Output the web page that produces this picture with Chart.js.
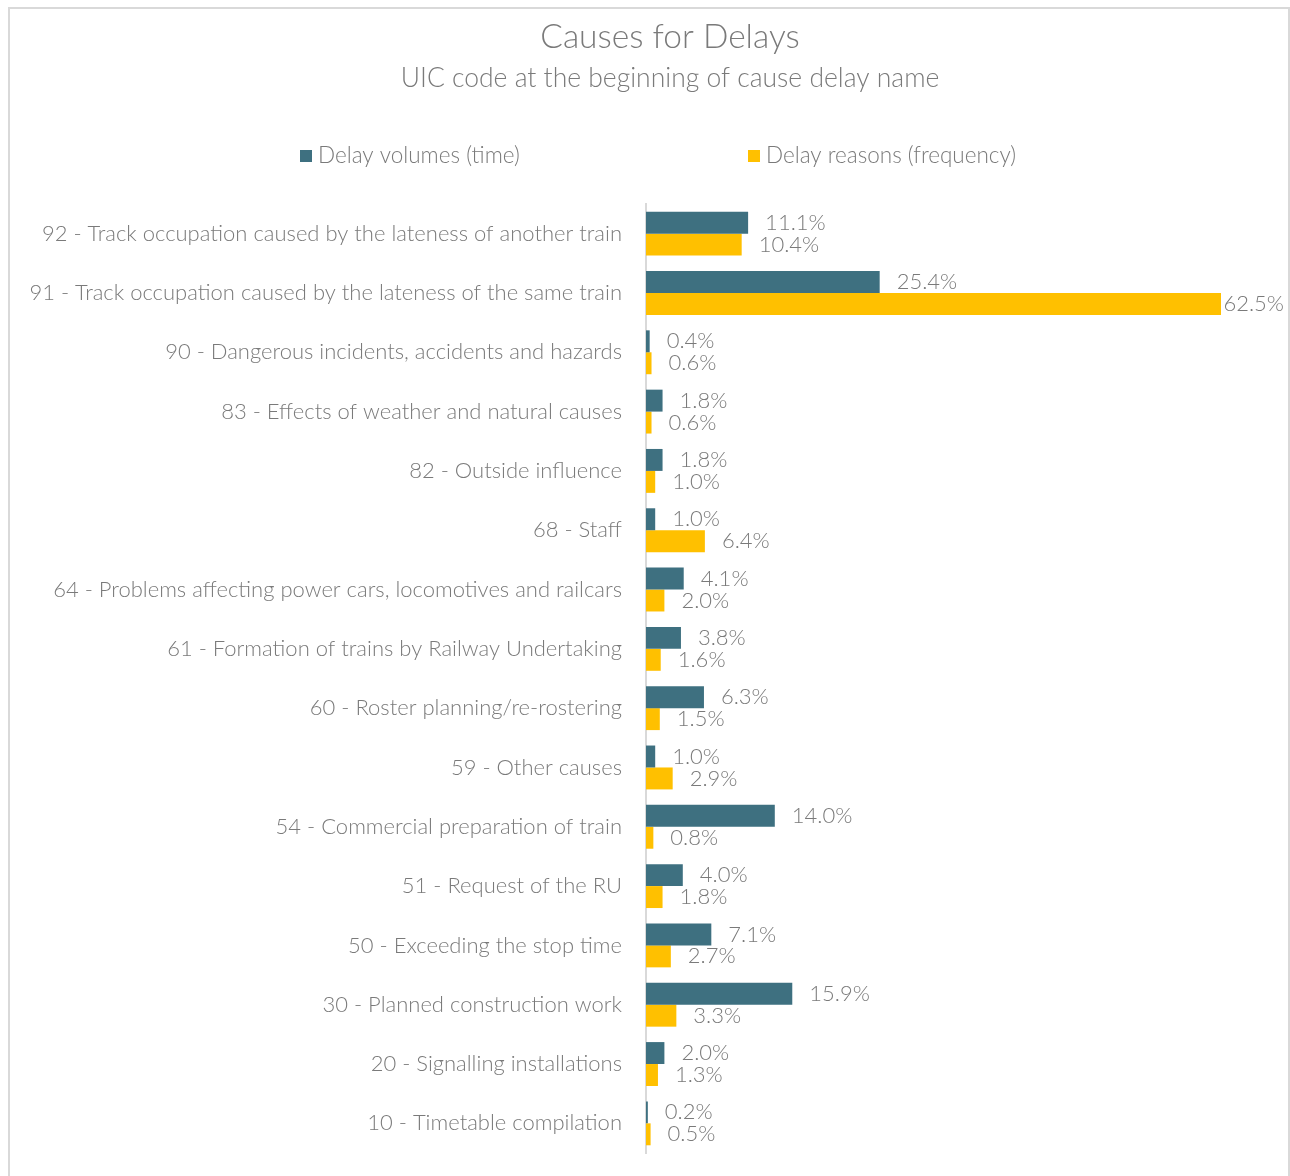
<!DOCTYPE html>
<html>
<head>
<meta charset="utf-8">
<script src="https://cdn.jsdelivr.net/npm/chart.js@4.4.0/dist/chart.umd.min.js"></script>
<style>
    body { margin: 0; background: #ffffff; }
    #wrap { position: relative; width: 1290px; height: 1176px; }
    #frame {
        position: absolute; left: 8px; top: 7px; width: 1278px; height: 1180px;
        border: 2px solid #d9d9d9; pointer-events: none;
    }
    canvas { position: absolute; left: 0; top: 0; }
</style>
</head>
<body>
<div id="wrap">
    <canvas id="chart" width="1290" height="1176"></canvas>
    <div id="frame"></div>
</div>
<script>
/***************
 * Chart data  *
 ***************/
const causeLabels = [
    '92 - Track occupation caused by the lateness of another train',
    '91 - Track occupation caused by the lateness of the same train',
    '90 - Dangerous incidents, accidents and hazards',
    '83 - Effects of weather and natural causes',
    '82 - Outside influence',
    '68 - Staff',
    '64 - Problems affecting power cars, locomotives and railcars',
    '61 - Formation of trains by Railway Undertaking',
    '60 - Roster planning/re-rostering',
    '59 - Other causes',
    '54 - Commercial preparation of train',
    '51 - Request of the RU',
    '50 - Exceeding the stop time',
    '30 - Planned construction work',
    '20 - Signalling installations',
    '10 - Timetable compilation'
];
const delayVolumes = [11.1, 25.4, 0.4, 1.8, 1.8, 1.0, 4.1, 3.8, 6.3, 1.0, 14.0, 4.0, 7.1, 15.9, 2.0, 0.2];
const delayReasons = [10.4, 62.5, 0.6, 0.6, 1.0, 6.4, 2.0, 1.6, 1.5, 2.9, 0.8, 1.8, 2.7, 3.3, 1.3, 0.5];
const seriesNames = ['Delay volumes (time)', 'Delay reasons (frequency)'];

const tealColor = '#3e7080';
const goldColor = '#ffc000';
const textColor = '#7a7a7a';
const fontFamily = 'Lato, "Open Sans", sans-serif';

/**
 * Draws the value label at the end of each bar.
 */
const barValueLabels = {
    id: 'barValueLabels',
    afterDatasetsDraw(chart) {
        const ctx = chart.ctx;
        ctx.save();
        ctx.font = '300 22px ' + fontFamily;
        ctx.fillStyle = textColor;
        ctx.textBaseline = 'middle';
        ctx.textAlign = 'left';
        chart.data.datasets.forEach((dataset, datasetIndex) => {
            const meta = chart.getDatasetMeta(datasetIndex);
            meta.data.forEach((bar, index) => {
                const text = dataset.data[index].toFixed(1) + '%';
                const width = ctx.measureText(text).width;
                const x = Math.min(bar.x + 17, chart.width - width - 6);
                ctx.fillText(text, x, bar.y);
            });
        });
        ctx.restore();
    }
};

/**
 * Draws the legend with two widely spaced items.
 */
const splitLegend = {
    id: 'splitLegend',
    afterDraw(chart, args, options) {
        const ctx = chart.ctx;
        ctx.save();
        ctx.font = '300 22.5px ' + fontFamily;
        ctx.textBaseline = 'middle';
        ctx.textAlign = 'left';
        chart.data.datasets.forEach((dataset, i) => {
            const x = options.positions[i];
            ctx.fillStyle = dataset.backgroundColor;
            ctx.fillRect(x, options.y - 6, 12, 12);
            ctx.fillStyle = textColor;
            ctx.fillText(dataset.label, x + 18, options.y);
        });
        ctx.restore();
    }
};

const context = document.getElementById('chart').getContext('2d');
new Chart(context, {
    type: 'bar',
    data: {
        labels: causeLabels,
        datasets: [
            { label: seriesNames[0], data: delayVolumes, backgroundColor: tealColor },
            { label: seriesNames[1], data: delayReasons, backgroundColor: goldColor }
        ]
    },
    options: {
        indexAxis: 'y',
        responsive: false,
        animation: false,
        // negative right padding shifts the centred title to the right, like the original
        layout: { padding: { left: 0, right: -50, top: 0, bottom: 23 } },
        datasets: {
            bar: { barPercentage: 1, categoryPercentage: 0.74 }
        },
        scales: {
            x: {
                display: false,
                min: 0,
                max: 70
            },
            y: {
                afterFit(scale) {
                    scale.width = 646;
                    scale.paddingTop = 0;
                    scale.paddingBottom = 0;
                },
                grid: { display: false, drawTicks: false },
                border: { display: true, color: '#d9d9d9', width: 2 },
                ticks: {
                    padding: 24,
                    color: textColor,
                    font: { family: fontFamily, size: 22, weight: '300' }
                }
            }
        },
        plugins: {
            legend: { display: false },
            tooltip: { enabled: false },
            title: {
                display: true,
                text: 'Causes for Delays',
                color: textColor,
                font: { family: fontFamily, size: 33.5, weight: '300' },
                padding: { top: 17, bottom: 5 }
            },
            subtitle: {
                display: true,
                text: 'UIC code at the beginning of cause delay name',
                color: textColor,
                font: { family: fontFamily, size: 26.5, weight: '300' },
                padding: { top: 0, bottom: 110 }
            },
            splitLegend: { positions: [300, 748], y: 156 }
        }
    },
    plugins: [barValueLabels, splitLegend]
});
</script>
</body>
</html>
